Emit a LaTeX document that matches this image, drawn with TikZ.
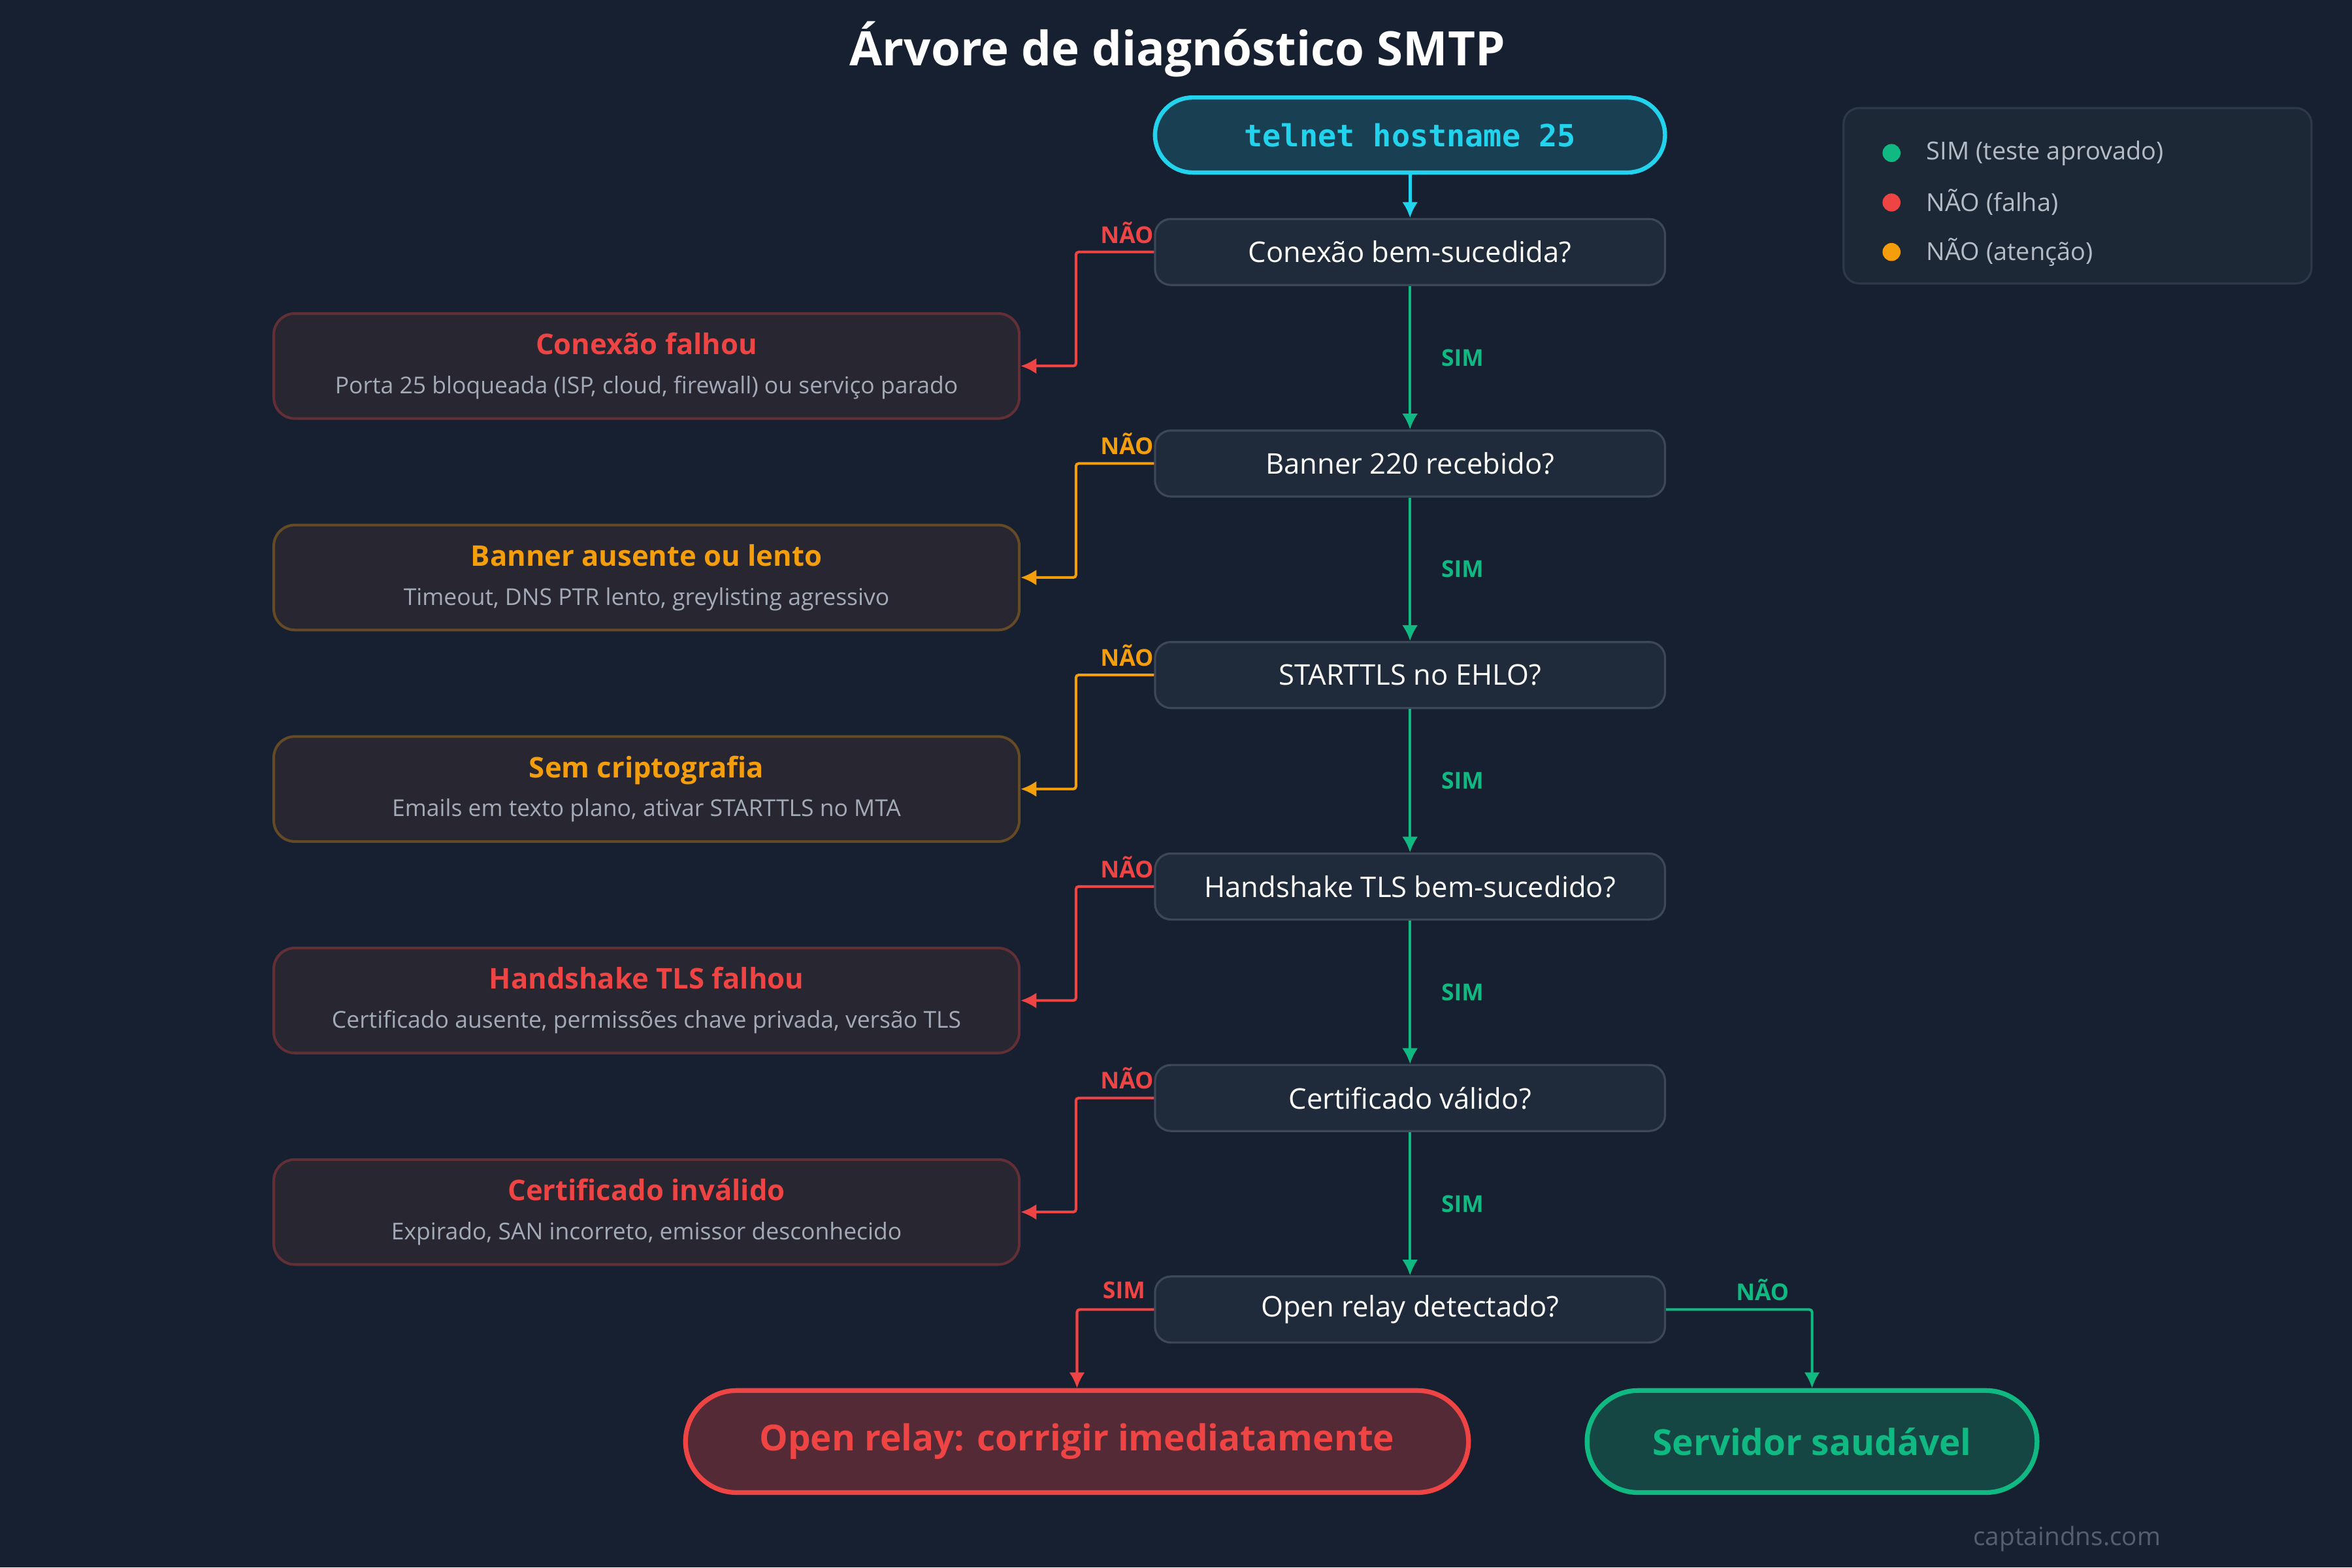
\documentclass[tikz,border=0pt]{standalone}
\usepackage{fontspec}
\setmainfont{Open Sans}
\setmonofont{DejaVu Sans Mono}
\usetikzlibrary{arrows.meta,positioning}
\definecolor{bgc}{HTML}{172030}
\definecolor{qfill}{HTML}{1F2B3A}
\definecolor{qline}{HTML}{3C4858}
\definecolor{ffill}{HTML}{272631}
\definecolor{redc}{HTML}{EF4444}
\definecolor{orac}{HTML}{F59E0B}
\definecolor{grnc}{HTML}{10B981}
\definecolor{cyac}{HTML}{22D3EE}
\definecolor{subc}{HTML}{A3ABB8}
\tikzset{
  quest/.style={draw=qline,fill=qfill,rounded corners=3pt,minimum width=3.4cm,minimum height=0.44cm,
    text=white,font=\fontsize{5.4}{6}\selectfont,line width=0.4pt},
  fail/.style={draw=#1!30!ffill,fill=ffill,rounded corners=4pt,minimum width=4.97cm,minimum height=0.7cm,
    align=center,line width=0.5pt,font=\fontsize{4.6}{6.2}\selectfont},
  sim/.style={grnc,line width=0.5pt,-{Latex[length=3pt,width=3pt]}},
  nao/.style={#1,line width=0.5pt,-{Latex[length=3pt,width=3pt]},rounded corners=0.5pt},
  lbl/.style={font=\fontsize{4.4}{5}\selectfont\bfseries,inner sep=0pt},
}
\newcommand{\failbox}[5]{%
  \node[fail=#3] (#1) at (4.31,#2) {{\color{#3}\fontsize{5.4}{6}\selectfont\bfseries #4}\\[1.2pt]
    {\color{subc}\fontsize{4.4}{5}\selectfont #5}};}
\begin{document}
\begin{tikzpicture}
\fill[bgc] (0,0) rectangle (15.68,-10.45);
\useasboundingbox (0,0) rectangle (15.68,-10.45);
\node[text=white,font=\fontsize{9}{10}\selectfont\bfseries] at (7.85,-0.33) {Árvore de diagnóstico SMTP};
% start
\node[draw=cyac,fill=cyac!18!bgc,rounded corners=0.25cm,minimum width=3.4cm,minimum height=0.5cm,
  line width=0.8pt,text=cyac,font=\fontsize{5.8}{7}\selectfont\ttfamily\bfseries] (start) at (9.40,-0.90) {telnet hostname 25};
% questions
\node[quest] (q1) at (9.40,-1.68) {Conexão bem-sucedida?};
\node[quest] (q2) at (9.40,-3.09) {Banner 220 recebido?};
\node[quest] (q3) at (9.40,-4.50) {STARTTLS no EHLO?};
\node[quest] (q4) at (9.40,-5.91) {Handshake TLS bem-sucedido?};
\node[quest] (q5) at (9.40,-7.32) {Certificado válido?};
\node[quest] (q6) at (9.40,-8.73) {Open relay detectado?};
% failures
\failbox{f1}{-2.44}{redc}{Conexão falhou}{Porta 25 bloqueada (ISP, cloud, firewall) ou serviço parado}
\failbox{f2}{-3.85}{orac}{Banner ausente ou lento}{Timeout, DNS PTR lento, greylisting agressivo}
\failbox{f3}{-5.26}{orac}{Sem criptografia}{Emails em texto plano, ativar STARTTLS no MTA}
\failbox{f4}{-6.67}{redc}{Handshake TLS falhou}{Certificado ausente, permissões chave privada, versão TLS}
\failbox{f5}{-8.08}{redc}{Certificado inválido}{Expirado, SAN incorreto, emissor desconhecido}
% outcomes
\node[draw=redc,fill=redc!28!bgc,rounded corners=0.34cm,minimum width=5.22cm,minimum height=0.68cm,line width=0.9pt,
  text=redc,font=\fontsize{6.8}{8}\selectfont\bfseries] (relay) at (7.18,-9.61) {Open relay: corrigir imediatamente};
\node[draw=grnc,fill=grnc!25!bgc,rounded corners=0.34cm,minimum width=3.0cm,minimum height=0.68cm,line width=0.9pt,
  text=grnc,font=\fontsize{6.8}{8}\selectfont\bfseries] (ok) at (12.08,-9.61) {Servidor saudável};
% yes path
\draw[cyac,line width=0.6pt,-{Latex[length=3pt,width=3pt]}] (start) -- (q1);
\foreach \a/\b in {q1/q2,q2/q3,q3/q4,q4/q5,q5/q6}
  \draw[sim] (\a) -- node[right=0.2cm,lbl,grnc] {SIM} (\b);
% no paths
\foreach \q/\f/\c in {q1/f1/redc,q2/f2/orac,q3/f3/orac,q4/f4/redc,q5/f5/redc}{
  \draw[nao=\c] (\q.west) -- ++(-0.52,0) |- (\f.east);
  \node[lbl,text=\c] at ([shift={(-0.18,0.13)}]\q.west) {NÃO};
}
\draw[nao=redc] (q6.west) -| (relay.north);
\node[lbl,text=redc] at ([shift={(-0.20,0.13)}]q6.west) {SIM};
\draw[nao=grnc] (q6.east) -| (ok.north);
\node[lbl,text=grnc] at (11.75,-8.60) {NÃO};
% legend
\node[draw=qline!60!bgc,fill=qfill!70!bgc,rounded corners=3pt,minimum width=3.12cm,minimum height=1.17cm] (leg) at (13.85,-1.305) {};
\foreach \y/\c/\t in {-1.02/grnc/SIM (teste aprovado),-1.35/redc/NÃO (falha),-1.68/orac/NÃO (atenção)}{
  \fill[\c] (12.61,\y) circle (0.06);
  \node[anchor=west,text=subc!80!white,font=\fontsize{4.7}{6}\selectfont] at (12.72,\y) {\t};
}
\node[text=subc!45!bgc,font=\fontsize{4.8}{6}\selectfont] at (13.78,-10.26) {captaindns.com};
\end{tikzpicture}
\end{document}
